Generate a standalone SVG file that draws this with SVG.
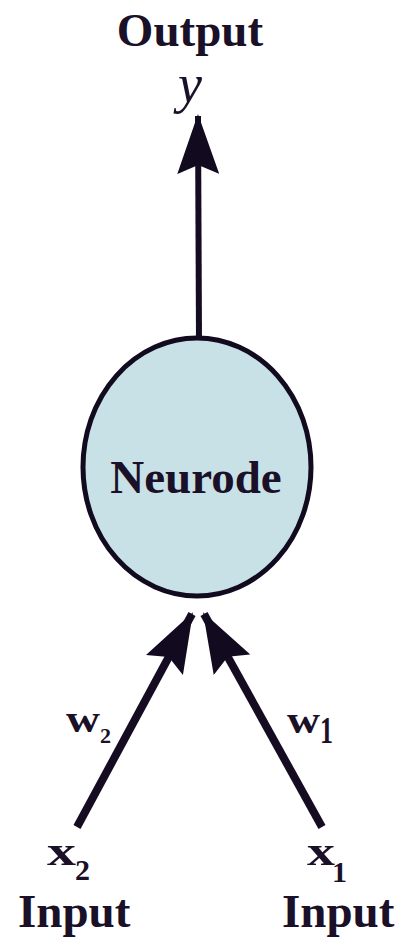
<svg xmlns="http://www.w3.org/2000/svg" width="398" height="938" viewBox="0 0 398 938">
<style>
text{font-family:"Liberation Serif","Times New Roman",serif;font-weight:bold;fill:#1a1028}
.big{font-size:47px}
.lbl{font-size:42px}
.sub{font-size:30px}
.wire{stroke:#150c22;fill:none}
</style>
<defs>
<marker id="head" viewBox="0 0 60 42" refX="58" refY="21" markerWidth="60" markerHeight="42" markerUnits="userSpaceOnUse" orient="auto">
<path d="M0,0 L60,21 L0,42 L9,21 Z" fill="#120a1e"/>
</marker>
</defs>
<rect width="398" height="938" fill="#ffffff"/>
<g id="output">
<text class="big" x="190" y="46" text-anchor="middle">Output</text>
<text x="190" y="102" text-anchor="middle" style="font-size:54px;font-style:italic;font-weight:normal">y</text>
</g>
<g id="neurode">
<ellipse cx="197" cy="467" rx="114" ry="129" fill="#c8e1e6" stroke="#120a1e" stroke-width="5"/>
<text x="196" y="493" text-anchor="middle" style="font-size:47px">Neurode</text>
</g>
<g id="input2">
<text class="lbl" x="47" y="865" textLength="29" lengthAdjust="spacingAndGlyphs">x</text>
<text class="sub" x="75" y="880">2</text>
<text class="big" x="18" y="927">Input</text>
</g>
<g id="input1">
<text class="lbl" x="307" y="865" textLength="28" lengthAdjust="spacingAndGlyphs">x</text>
<text class="sub" x="332" y="882">1</text>
<text class="big" x="282" y="927">Input</text>
</g>
<g id="connectors">
<line class="wire" x1="199" y1="340" x2="198" y2="116" stroke-width="6" marker-end="url(#head)"/>
<line class="wire" x1="77" y1="827" x2="192" y2="614" stroke-width="8" marker-end="url(#head)"/>
<line class="wire" x1="322" y1="827" x2="204" y2="614" stroke-width="8" marker-end="url(#head)"/>
<text class="lbl" x="66" y="732" style="font-size:38px" textLength="34" lengthAdjust="spacingAndGlyphs">w</text>
<text x="100" y="743" style="font-size:22px">2</text>
<text class="lbl" x="287" y="733" style="font-size:38px" textLength="33" lengthAdjust="spacingAndGlyphs">w</text>
<text x="320" y="743" style="font-size:38px" textLength="13" lengthAdjust="spacingAndGlyphs">1</text>
</g>
</svg>
